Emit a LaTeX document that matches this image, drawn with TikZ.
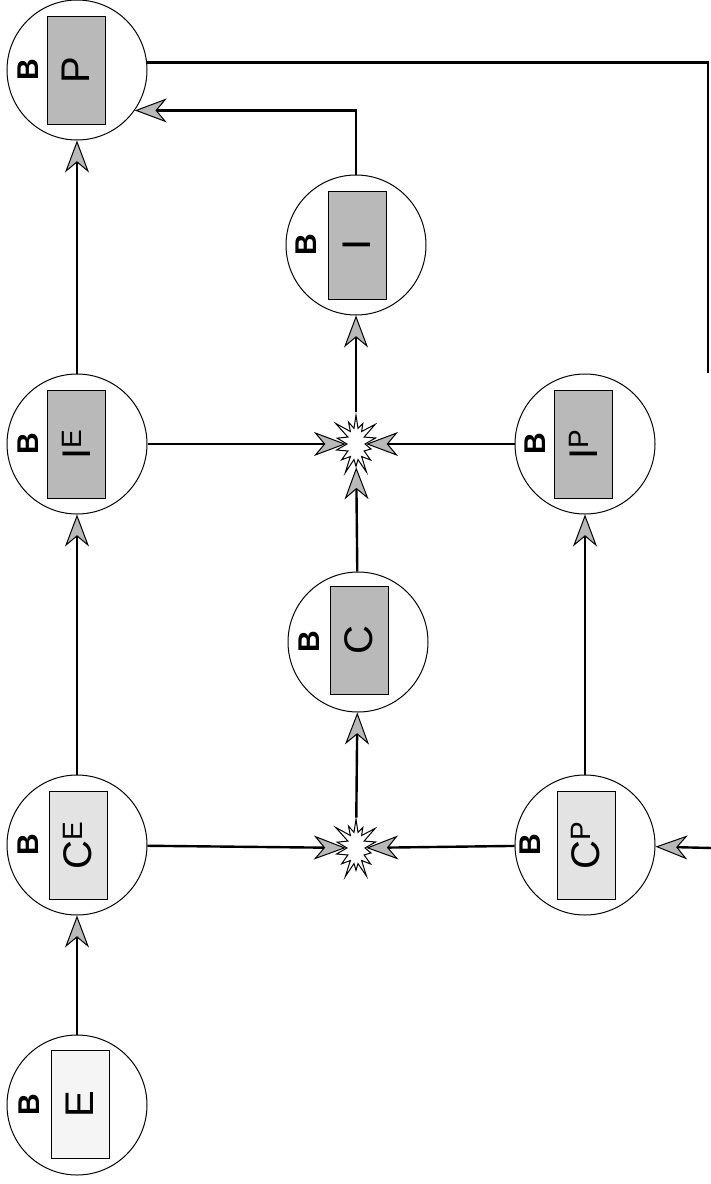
\documentclass[tikz,border=0pt]{standalone}
\usepackage{fontspec}
\setmainfont{Liberation Sans}
\usetikzlibrary{arrows.meta}
\usetikzlibrary{shapes.symbols}

\begin{document}
\begin{tikzpicture}[x=1pt,y=-1pt,
  unit/.style={circle,draw,line width=1pt,minimum size=140pt,inner sep=0pt},
  card/.style={rotate=90,draw,line width=1pt,minimum width=108pt,minimum height=58pt,inner sep=0pt,font=\fontsize{40}{40}\selectfont},
  dark/.style={fill=gray!55},
  light/.style={fill=gray!22},
  blank/.style={fill=gray!8},
  blabel/.style={rotate=90,font=\fontsize{30}{30}\selectfont\bfseries},
  burst/.style={starburst,draw,line width=1pt,fill=white,minimum width=54pt,minimum height=68pt,starburst points=14,starburst point height=18pt,inner sep=0pt},
  arr/.style={line width=2.4pt,-{Stealth[length=32pt,width=24pt,inset=10pt,fill=gray!55,line width=1pt]}}]
  \useasboundingbox (0,0) rectangle (710,1184);

  % left column
  \node[unit] (P) at (77,70) {};
  \node[card,dark] (Pc) at (76,70) {P};
  \node[blabel] (Pb) at (28,70) {B};

  \node[unit] (IE) at (77,444) {};
  \node[card,dark] (IEc) at (76,444) {I\textsuperscript{E}};
  \node[blabel] (IEb) at (28,444) {B};

  \node[unit] (CE) at (77,845) {};
  \node[card,light] (CEc) at (78,845) {C\textsuperscript{E}};
  \node[blabel] (CEb) at (28,845) {B};

  \node[unit] (E) at (77,1105) {};
  \node[card,blank] (Ec) at (80,1104) {E};
  \node[blabel] (Eb) at (29,1105) {B};

  % middle column
  \node[unit] (I) at (356,245) {};
  \node[card,dark] (Ic) at (357,245) {I};
  \node[blabel] (Ib) at (306,245) {B};

  \node[unit] (C) at (358,642) {};
  \node[card,dark] (Cc) at (359,640) {C};
  \node[blabel] (Cb) at (309,642) {B};

  \node[burst] (s2) at (356,444) {};
  \node[burst] (s1) at (356,848) {};

  % right column
  \node[unit] (IP) at (585,444) {};
  \node[card,dark] (IPc) at (583,444) {I\textsuperscript{P}};
  \node[blabel] (IPb) at (535,444) {B};

  \node[unit] (CP) at (585,845) {};
  \node[card,light] (CPc) at (586,845) {C\textsuperscript{P}};
  \node[blabel] (CPb) at (530,845) {B};

  \coordinate (fbtop) at (708,0);
  \coordinate (fbend) at (708,373);
  \coordinate (feed) at (712,848);

  \draw[arr] (E) -- (CE);
  \draw[arr] (CE) -- (IE);
  \draw[arr] (IE) -- (P);
  \draw[arr] (CE) -- (s1);
  \draw[arr] (CP) -- (s1);
  \draw[arr] (s1) -- (C);
  \draw[arr] (C) -- (s2);
  \draw[arr] (IE) -- (s2);
  \draw[arr] (IP) -- (s2);
  \draw[arr] (s2) -- (I);
  \draw[arr] (CP) -- (IP);
  \draw[arr] (I) |- (P.-35);
  \draw[arr] (feed) -- (CP);
  \draw[line width=2.4pt] (P.6) -- (P.6 -| fbtop) -- (fbend);

\end{tikzpicture}
\end{document}
